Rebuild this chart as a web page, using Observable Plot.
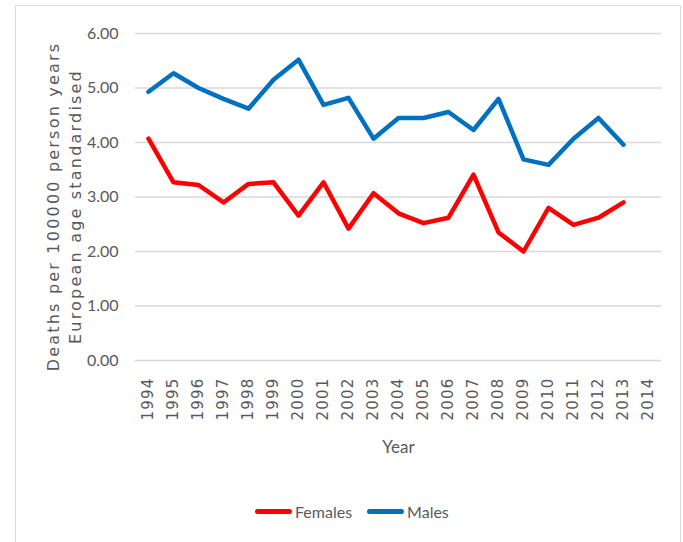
<!DOCTYPE html>
<html><head><meta charset="utf-8">
<script src="https://cdn.jsdelivr.net/npm/d3@7"></script>
<script src="https://cdn.jsdelivr.net/npm/@observablehq/plot@0.6"></script>
<style>
body{margin:0;background:#fff}
#wrap{position:relative;width:683px;height:542px;overflow:hidden;background:#fff}
#frame{position:absolute;left:15px;top:5px;width:666px;height:545px;border:1px solid #d9d9d9;box-sizing:border-box}
#chart{position:absolute;left:0;top:0}
#legend{position:absolute;top:500px;left:255px;height:22px;display:flex;align-items:center;font-family:Lato,"Liberation Sans",sans-serif;font-size:16px;color:#595959}
.sw{display:inline-block;width:37px;height:5px;border-radius:3px;margin-right:3px}
.item{display:flex;align-items:center;margin-right:15px}
</style>
</head><body>
<div id="wrap"><div id="frame"></div><div id="chart"></div>
<div id="legend"></div></div>
<script>
const years = ["1994","1995","1996","1997","1998","1999","2000","2001","2002","2003","2004","2005","2006","2007","2008","2009","2010","2011","2012","2013","2014"];
const dataYears = years.slice(0, 20);
const females = [4.07,3.27,3.22,2.90,3.24,3.27,2.66,3.27,2.42,3.07,2.70,2.52,2.62,3.41,2.35,2.00,2.80,2.49,2.62,2.90];
const males = [4.93,5.27,5.00,4.80,4.62,5.15,5.52,4.69,4.82,4.07,4.45,4.45,4.56,4.23,4.80,3.69,3.59,4.07,4.45,3.96];
const yTicks = [0,1,2,3,4,5,6];
const seriesNames = ["Females","Males"];
const seriesColors = ["#ff0000","#0070c0"];
const yTitle = "Deaths per 100000 person years\nEuropean age standardised";
const xTitle = "Year";

const rows = [];
dataYears.forEach((y,i)=>rows.push({year:y, value:females[i], series:"Females"}));
dataYears.forEach((y,i)=>rows.push({year:y, value:males[i], series:"Males"}));

const gray = "#595959";
const chart = Plot.plot({
  width: 683, height: 470,
  marginTop: 33, marginBottom: 110, marginLeft: 135, marginRight: 22,
  style: {background: "transparent", fontFamily: "Lato, sans-serif"},
  x: {type: "point", domain: years, padding: 0.5, label: null},
  y: {domain: [0, 6], label: null},
  color: {domain: seriesNames, range: seriesColors},
  marks: [
    Plot.gridY(yTicks, {stroke: "#d9d9d9", strokeOpacity: 1, strokeWidth: 1.5}),
    Plot.axisY(yTicks, {tickFormat: d => d.toFixed(2), tickSize: 0, tickPadding: 17, fontSize: 16, fill: gray, label: null}),
    Plot.axisX({tickRotate: -90, tickSize: 0, tickPadding: 17, fontSize: 15, fill: gray, label: null}),
    Plot.line(rows, {x: "year", y: "value", stroke: "series", z: "series", strokeWidth: 4.5, strokeLinejoin: "round", strokeLinecap: "round"}),
    Plot.text([xTitle], {frameAnchor: "bottom", textAnchor: "middle", dy: 92, fontSize: 17, fill: gray}),
    Plot.text([yTitle], {frameAnchor: "left", textAnchor: "middle", lineAnchor: "middle", rotate: -90, dx: -72.5, dy: 9.5, lineHeight: 1.375, fontSize: 16, fill: gray, fontFamily: "'DejaVu Sans', sans-serif"})
  ]
});
document.getElementById("chart").appendChild(chart);
const svg = d3.select(chart);
svg.selectAll("text").filter(function(){ return this.textContent.startsWith("Deaths") || this.textContent.startsWith("European"); })
  .style("letter-spacing", "2.2px");
svg.selectAll("g[aria-label='x-axis tick label'] text")
  .style("letter-spacing", "1.2px").style("font-family", "'DejaVu Sans', sans-serif");

const legend = d3.select("#legend");
seriesNames.forEach((n,i)=>{
  const it = legend.append("div").attr("class","item");
  it.append("span").attr("class","sw").style("background", seriesColors[i]);
  it.append("span").text(n);
});
</script>
</body></html>
